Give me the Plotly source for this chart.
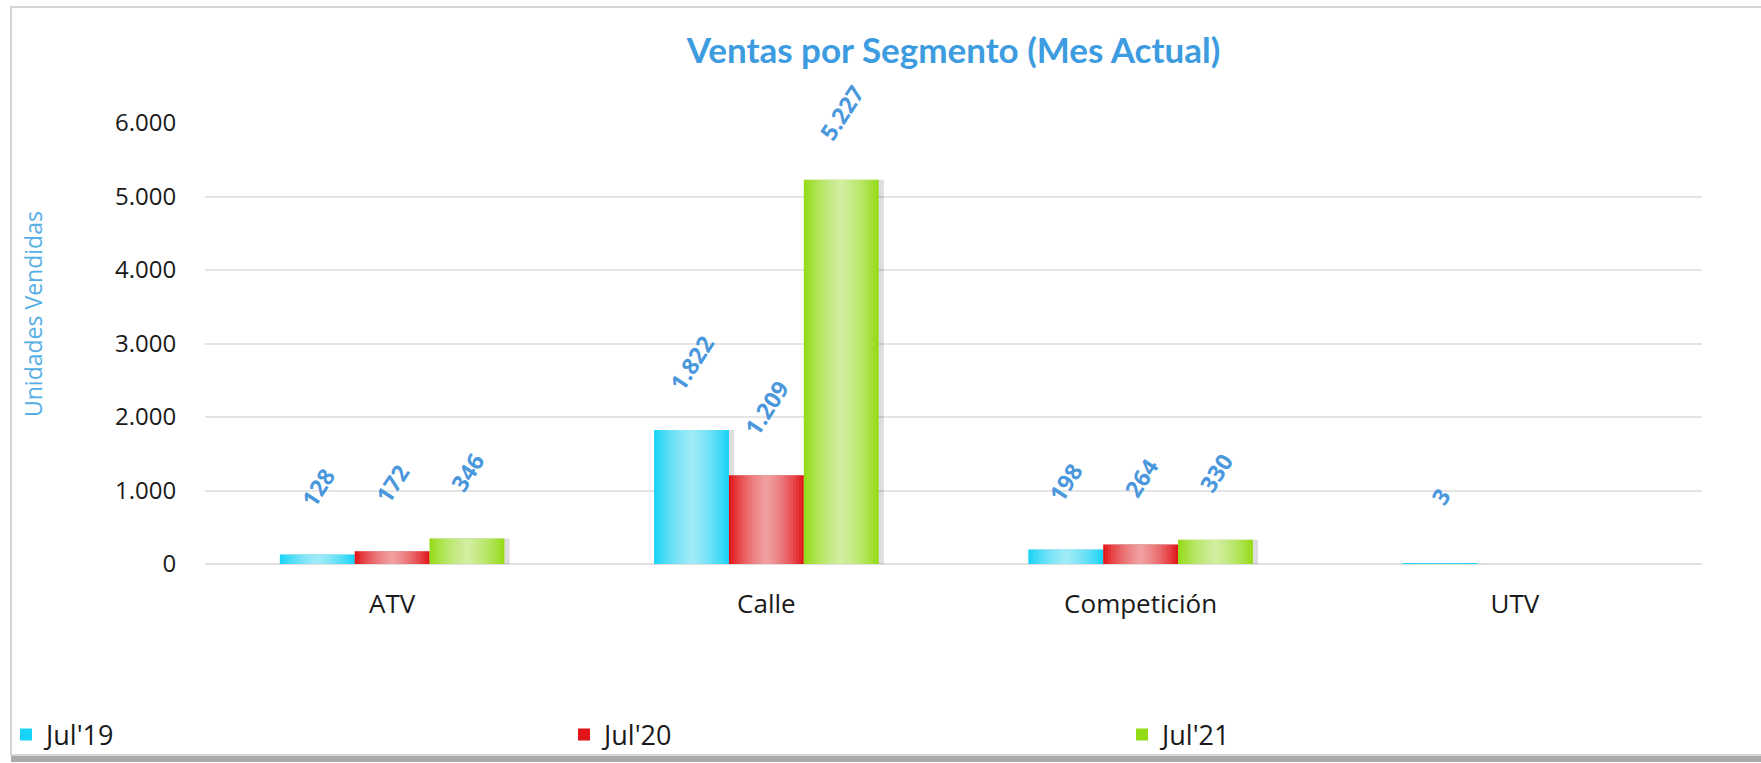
import plotly.graph_objects as go

# ---------------- data ----------------
categories = ["ATV", "Calle", "Competición", "UTV"]
series_names = ["Jul'19", "Jul'20", "Jul'21"]
jul19 = [128, 1822, 198, 3]
jul20 = [172, 1209, 264, None]
jul21 = [346, 5227, 330, None]
y_ticks = [0, 1000, 2000, 3000, 4000, 5000, 6000]

series_values = [jul19, jul20, jul21]
series_colors = ["#16d3f7", "#e11419", "#93db14"]

# ---------------- layout constants ----------------
W, H = 1761, 763
ML, MR, MT, MB = 205, 59, 123, 199
PW, PH = W - ML - MR, H - MT - MB

def px_x(px):
    return (px - ML) / PW

def px_y(py):
    return (H - MB - py) / PH

BAR_W = 0.2
n = len(series_values)

def fmt(v):
    return f"{v:,}".replace(",", ".")

fig = go.Figure()

# soft shadows behind bars
for k, vals in enumerate(series_values):
    off = -BAR_W * n / 2 + BAR_W * k
    fig.add_trace(go.Bar(
        x=categories, y=vals, width=BAR_W + 0.012, offset=off + 0.002,
        marker=dict(color="rgba(0,0,0,0.13)", line=dict(width=0)),
        showlegend=False, hoverinfo="skip"))

# main bars
for k, (vals, name, col) in enumerate(zip(series_values, series_names, series_colors)):
    off = -BAR_W * n / 2 + BAR_W * k
    fig.add_trace(go.Bar(
        x=categories, y=vals, name=name, width=BAR_W, offset=off,
        marker=dict(color=col, line=dict(width=0))))

# highlight overlays to imitate the cylindrical gradient
fracs = [0.95, 0.87, 0.79, 0.71, 0.63, 0.55, 0.47, 0.39, 0.31, 0.23, 0.15, 0.08]
for k, vals in enumerate(series_values):
    off = -BAR_W * n / 2 + BAR_W * k
    center = off + BAR_W / 2
    for frac in fracs:
        w = BAR_W * frac
        fig.add_trace(go.Bar(
            x=categories, y=vals, width=w, offset=center - w / 2,
            marker=dict(color="rgba(255,255,255,0.075)", line=dict(width=0)),
            showlegend=False, hoverinfo="skip"))

# rotated value labels
for k, vals in enumerate(series_values):
    off = -BAR_W * n / 2 + BAR_W * k
    for i, v in enumerate(vals):
        if v is None:
            continue
        fig.add_annotation(
            x=i + off + BAR_W / 2, y=v, xref="x", yref="y",
            text=fmt(v), showarrow=False, textangle=-57,
            xanchor="center", yanchor="middle", yshift=67,
            font=dict(family="Open Sans", size=23, color="#4a97dc", weight=700))

# y-axis title
fig.add_annotation(
    x=px_x(33), y=px_y(314), xref="paper", yref="paper",
    text="Unidades Vendidas", showarrow=False, textangle=-90,
    xanchor="center", yanchor="middle",
    font=dict(family="Open Sans", size=23, color="#55aee6"))

# outer frame
fig.add_shape(type="rect", xref="paper", yref="paper",
              x0=px_x(11), x1=px_x(1790), y0=px_y(755), y1=px_y(7),
              line=dict(color="#d6d6d6", width=2), layer="below")
fig.add_shape(type="line", xref="paper", yref="paper",
              x0=px_x(11), x1=px_x(1790), y0=px_y(759), y1=px_y(759),
              line=dict(color="#a9a9a9", width=6), layer="below")

fig.update_layout(
    width=W, height=H,
    margin=dict(l=ML, r=MR, t=MT, b=MB, autoexpand=False),
    paper_bgcolor="white", plot_bgcolor="white",
    barmode="overlay",
    separators=",.",
    title=dict(text="<b>Ventas por Segmento (Mes Actual)</b>",
               x=0.5, xref="paper", xanchor="center",
               y=1 - 51 / H, yref="container", yanchor="middle",
               font=dict(family="Lato", size=35, color="#3d9ce0")),
    xaxis=dict(type="category", range=[-0.5, len(categories) - 0.5],
               showgrid=False, showline=False, zeroline=False,
               ticks="outside", ticklen=17, tickcolor="rgba(0,0,0,0)",
               tickfont=dict(family="Open Sans", size=26, color="#1a1a1a")),
    yaxis=dict(range=[0, 6000], tickvals=y_ticks, tickformat=",d",
               showgrid=True, gridcolor="#e4e4e4", gridwidth=2,
               zeroline=True, zerolinecolor="#e0e0e0", zerolinewidth=2,
               showline=False,
               ticks="outside", ticklen=23, tickcolor="rgba(0,0,0,0)",
               tickfont=dict(family="Open Sans", size=24, color="#1a1a1a")),
    legend=dict(orientation="h", x=px_x(6), y=px_y(735),
                xanchor="left", yanchor="middle",
                entrywidth=513, entrywidthmode="pixels",
                font=dict(family="Open Sans", size=27, color="#1a1a1a"),
                bgcolor="rgba(0,0,0,0)", itemsizing="constant"),
    showlegend=True,
)

fig.write_html(
    "out.html",
    config={"displayModeBar": False},
    post_script="document.body.style.margin='0px';document.body.style.overflow='hidden';",
)
